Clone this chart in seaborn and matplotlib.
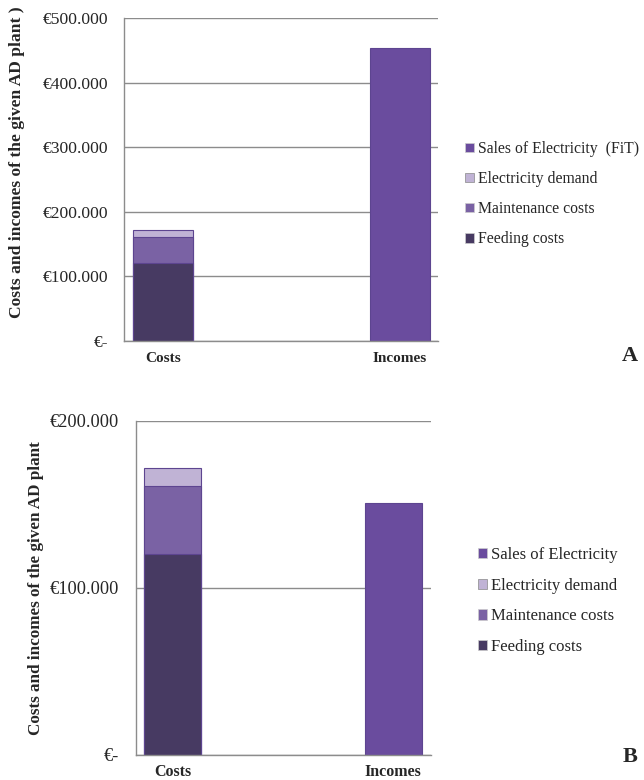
import matplotlib
matplotlib.use("Agg")
import matplotlib.pyplot as plt
import seaborn as sns
from matplotlib.patches import Patch

sns.set_style("white")
plt.rcParams["font.family"] = ["Liberation Serif", "DejaVu Serif"]

# Data
categories = ["Costs", "Incomes"]
cost_parts = ["Feeding costs", "Maintenance costs", "Electricity demand"]
cost_values_a = [120000, 41000, 11000]
cost_values_b = [120000, 41000, 11000]
sales_a = 453000
sales_b = 151000
sales_label_a = "Sales of Electricity  (FiT)"
sales_label_b = "Sales of Electricity"
yticks_a = [0, 100000, 200000, 300000, 400000, 500000]
yticks_b = [0, 100000, 200000]
ytick_labels_a = ["€-", "€100.000", "€200.000", "€300.000", "€400.000", "€500.000"]
ytick_labels_b = ["€-", "€100.000", "€200.000"]
ylabel_a = "Costs and incomes of the given AD plant )"
ylabel_b = "Costs and incomes of the given AD plant"

part_colors = ["#473a62", "#7a62a4", "#c0b3d5"]
sales_color = "#6a4c9e"
edge_color = "#5d4590"
grid_color = "#8c8c8c"

fig = plt.figure(figsize=(6.44, 7.8), dpi=100)
ax_a = fig.add_axes([0.1925, 0.5628, 0.4875, 0.4141])
ax_b = fig.add_axes([0.2112, 0.0321, 0.4578, 0.4285])


def draw_panel(ax, parts, sales, width, yticks, yticklabels, ylabel,
               sales_label, xlim, tick_size, tick_pad, xtick_size, xtick_pad,
               label_size, label_xy, legend_xy, legend_size, legend_spacing):
    # stacked cost column: draw cumulative totals from the top layer down
    cum = []
    running = 0
    for v in parts:
        running += v
        cum.append(running)
    for total, color in zip(reversed(cum), reversed(part_colors)):
        sns.barplot(x=["Costs"], y=[total], order=categories, color=color,
                    width=width, edgecolor=edge_color, linewidth=0.8,
                    saturation=1, ax=ax)
    sns.barplot(x=["Incomes"], y=[sales], order=categories, color=sales_color,
                width=width, edgecolor=edge_color, linewidth=0.8,
                saturation=1, ax=ax)

    ax.set_xlim(*xlim)
    ax.set_ylim(yticks[0], yticks[-1])
    ax.set_yticks(yticks)
    ax.set_yticklabels(yticklabels, fontsize=tick_size)
    ax.yaxis.grid(True, color=grid_color, linewidth=1.0)
    ax.set_axisbelow(True)
    for side in ["top", "right"]:
        ax.spines[side].set_visible(False)
    for side in ["left", "bottom"]:
        ax.spines[side].set_color(grid_color)
        ax.spines[side].set_linewidth(1.0)
    ax.tick_params(axis="y", length=5, color=grid_color, width=1.0, pad=tick_pad)
    ax.tick_params(axis="x", length=0, pad=xtick_pad)
    for lbl in ax.get_xticklabels():
        lbl.set_fontweight("bold")
        lbl.set_fontsize(xtick_size)
    ax.set_xlabel("")
    ax.set_ylabel(ylabel, fontsize=label_size, fontweight="bold")
    ax.yaxis.set_label_coords(*label_xy)

    handles = [Patch(facecolor=sales_color, edgecolor="#cccccc", linewidth=0.5),
               Patch(facecolor=part_colors[2], edgecolor="#888888", linewidth=0.5),
               Patch(facecolor=part_colors[1], edgecolor="#cccccc", linewidth=0.5),
               Patch(facecolor=part_colors[0], edgecolor="#cccccc", linewidth=0.5)]
    labels = [sales_label, "Electricity demand", "Maintenance costs", "Feeding costs"]
    ax.legend(handles, labels, loc="center left", bbox_to_anchor=legend_xy,
              bbox_transform=fig.transFigure, frameon=False,
              fontsize=legend_size, handlelength=0.55, handleheight=0.55,
              handletextpad=0.25, labelspacing=legend_spacing,
              borderaxespad=0, borderpad=0)


draw_panel(ax_a, cost_values_a, sales_a, 0.253, yticks_a, ytick_labels_a,
           ylabel_a, sales_label_a, (-0.165, 1.16), 12.6, 6, 11, 8,
           12.6, (-0.316, 0.554), (0.722, 0.751), 11.3, 0.9)
draw_panel(ax_b, cost_values_b, sales_b, 0.258, yticks_b, ytick_labels_b,
           ylabel_b, sales_label_b, (-0.165, 1.17), 13.2, 7.5, 11.5, 6.5,
           12.3, (-0.313, 0.5), (0.742, 0.2295), 12, 0.89)

fig.text(0.991, 0.544, "A", fontsize=16, fontweight="bold", ha="right", va="center")
fig.text(0.990, 0.0295, "B", fontsize=16, fontweight="bold", ha="right", va="center")

fig.savefig("out.png", dpi=100, facecolor="white")
